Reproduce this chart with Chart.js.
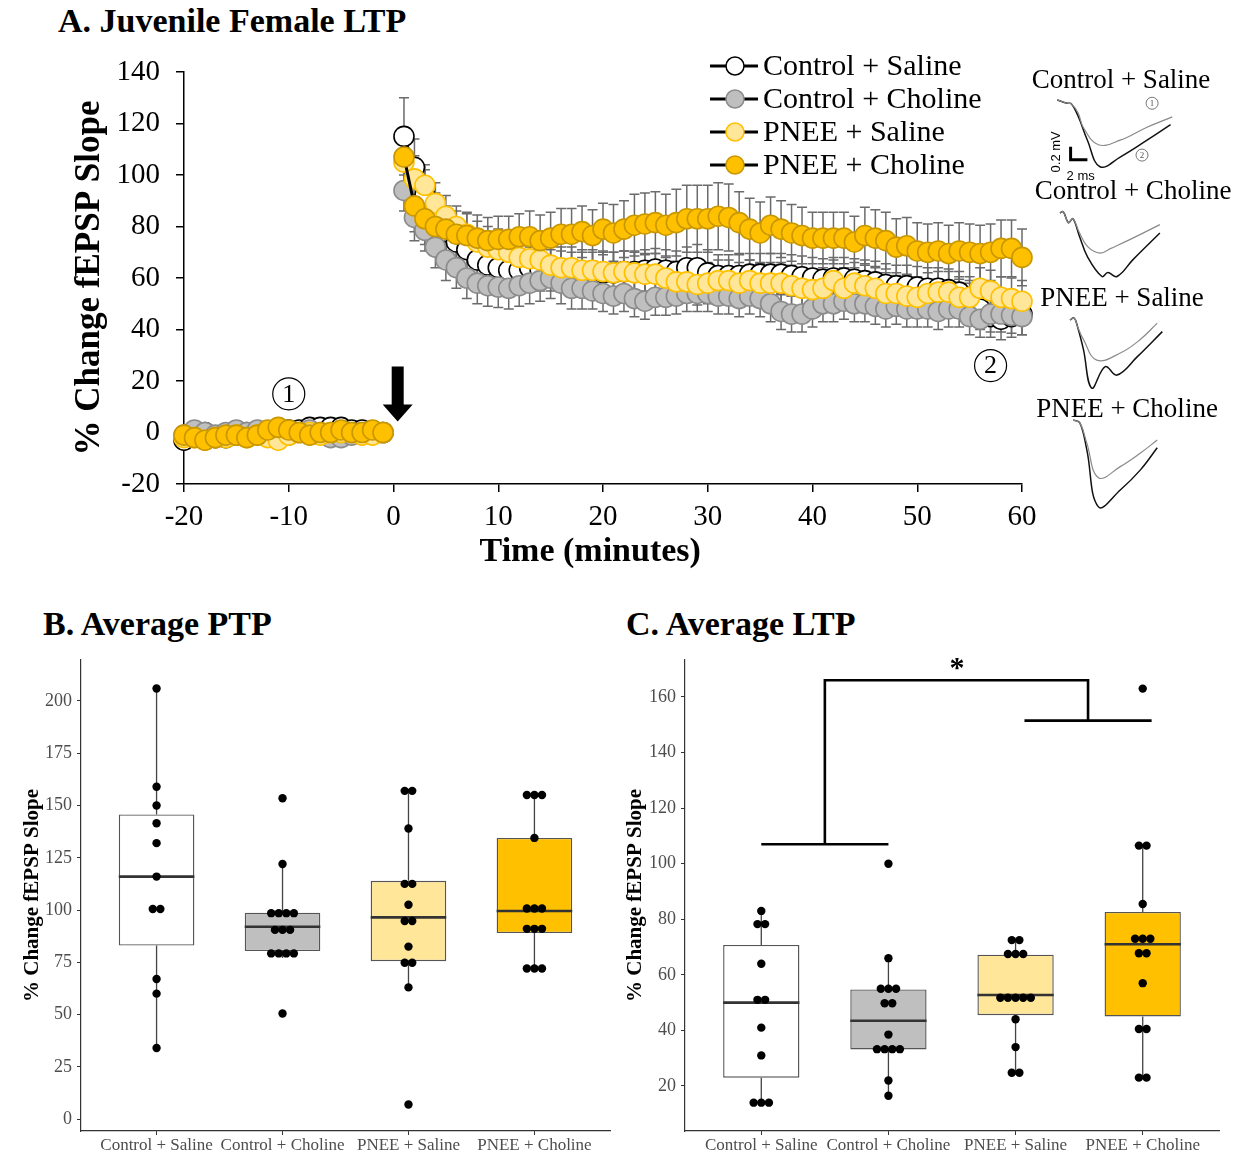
<!DOCTYPE html>
<html>
<head>
<meta charset="utf-8">
<title>Juvenile Female LTP</title>
<script src="https://cdn.jsdelivr.net/npm/chart.js"></script>
<style>
  body { margin: 0; width: 1238px; height: 1154px; background: #fff; position: relative; overflow: hidden;
         font-family: 'Liberation Serif', 'Times New Roman', serif; }
  .box { position: absolute; }
  .panel-title { position: absolute; margin: 0; font-size: 34px; line-height: 1; font-weight: bold; white-space: nowrap; }
</style>
</head>
<body>
<div class="panel-title" style="left:58px;top:4px">A. Juvenile Female LTP</div>
<div class="panel-title" style="left:43px;top:607px">B. Average PTP</div>
<div class="panel-title" style="left:626px;top:607px">C. Average LTP</div>

<div class="box" style="left:60px;top:50px;width:980px;height:530px"><canvas id="ltpChart"></canvas></div>
<div class="box" style="left:1016px;top:65px;width:210px;height:129px"><canvas id="traceCS"></canvas></div>
<div class="box" style="left:1028px;top:176px;width:210px;height:131px"><canvas id="traceCC"></canvas></div>
<div class="box" style="left:1017px;top:283px;width:210px;height:131px"><canvas id="tracePS"></canvas></div>
<div class="box" style="left:1022px;top:394px;width:210px;height:120px"><canvas id="tracePC"></canvas></div>
<div class="box" style="left:15px;top:650px;width:605px;height:504px"><canvas id="ptpChart"></canvas></div>
<div class="box" style="left:620px;top:650px;width:618px;height:504px"><canvas id="avgLtpChart"></canvas></div>

<script>
Chart.defaults.font.family = "'Liberation Serif', 'Times New Roman', serif";
Chart.defaults.color = '#000';
Chart.defaults.animation = false;

const groupNames = ['Control + Saline', 'Control + Choline', 'PNEE + Saline', 'PNEE + Choline'];
const groupFills = ['#ffffff', '#bfbfbf', '#ffe699', '#ffc000'];

// ---------- A: time course (% change fEPSP slope) ----------
const baseMinutes = [-20, -19, -18, -17, -16, -15, -14, -13, -12, -11, -10, -9, -8, -7, -6, -5, -4, -3, -2, -1];
const postMinutes = [1, 2, 3, 4, 5, 6, 7, 8, 9, 10, 11, 12, 13, 14, 15, 16, 17, 18, 19, 20,
  21, 22, 23, 24, 25, 26, 27, 28, 29, 30, 31, 32, 33, 34, 35, 36, 37, 38, 39, 40,
  41, 42, 43, 44, 45, 46, 47, 48, 49, 50, 51, 52, 53, 54, 55, 56, 57, 58, 59, 60];

const ctrlSalineBase = [-3, -1, 0, -2, -2, -1, 0, 0, 0, 1, 1, 1, 2, 2, 2, 2, 1, 1, 0, 0];
const ctrlSalinePost = [115, 103, 92, 84, 78, 74, 71, 67, 65, 64,
  63, 63, 64, 63, 63, 62.5, 62, 62, 62, 62,
  62, 62.5, 62.5, 63, 63.5, 63, 62.5, 64, 64, 62,
  61, 61, 61, 61.5, 61.5, 61.5, 61.5, 61, 60.5, 60,
  59.5, 60, 60, 59.5, 59, 58.5, 57.5, 57, 57, 56.5,
  56, 56, 55.5, 54.5, 50, 48, 45, 44, 45, 46];
const ctrlSalineSemBase = [2, 2, 2, 2, 2, 2, 2, 2, 2, 2, 2, 2, 2, 2, 2, 2, 2, 2, 2, 2];
const ctrlSalineSemPost = [15, 11, 10, 9, 9, 8, 8, 8, 8, 8,
  8, 8, 8, 8, 8, 8, 8, 8, 8, 8,
  8, 8, 8, 8, 8, 8, 8, 8, 9, 9,
  8, 8, 8, 8, 8, 8, 8, 8, 8, 8,
  8, 8, 8, 8, 8, 8, 8, 8, 8, 8,
  8, 8, 8, 8, 8, 8, 8, 8, 8, 8];

const ctrlCholineBase = [-1, 1, 0, -1, 0, 1, 0, 1, 0, 0, -1, 0, 1, 0, -2, -2, -1, 0, 0, 0];
const ctrlCholinePost = [94, 83.5, 78.5, 72, 67, 64, 60, 58, 57, 56.5,
  56, 57, 58, 59, 60, 58, 56, 56, 55, 54,
  53, 54, 52, 51, 52.5, 52.5, 53, 54, 54, 54,
  53, 53, 52, 53, 52, 50, 47, 46, 46, 48,
  50, 50, 51, 50, 50, 49, 48, 49, 48, 48,
  48, 47, 48, 48, 45, 44, 46, 46, 45.5, 45];
const ctrlCholineSemBase = [2, 2, 2, 2, 2, 2, 2, 2, 2, 2, 2, 2, 2, 2, 2, 2, 2, 2, 2, 2];
const ctrlCholineSemPost = [8, 9, 8, 8, 8, 8, 8, 8, 8, 8,
  8, 8, 8, 8, 8, 8, 8, 8, 7, 7,
  7, 7, 7, 7, 7, 7, 7, 7, 7, 7,
  7, 7, 7, 7, 7, 7, 7, 7, 7, 7,
  7, 7, 7, 7, 7, 7, 7, 7, 7, 7,
  7, 7, 7, 7, 7, 7, 7, 7, 7, 7];

const pneeSalineBase = [-2, -2, -3, -2, -2, -1, -2, -1, -2, -3, -1, 0, 0, -1, 0, 0, 0, -1, -1, 0];
const pneeSalinePost = [105, 98.5, 96, 89, 84, 80, 77, 74, 72, 71,
  70, 68, 67.5, 67, 65, 64, 64, 63, 63, 62.5,
  62, 62.5, 62, 61.5, 61.5, 60, 58.5, 58.5, 57.5, 58,
  59, 59, 58, 59, 58, 58, 58, 57, 56, 55.5,
  56, 59, 56, 58, 57, 56, 54, 54, 53, 52.5,
  54, 54.5, 54.5, 52.5, 52.5, 56, 55, 52.5, 52, 51];
const pneeSalineSemBase = [2, 2, 2, 2, 2, 2, 2, 2, 2, 2, 2, 2, 2, 2, 2, 2, 2, 2, 2, 2];
const pneeSalineSemPost = [9, 9, 8, 8, 8, 8, 8, 8, 8, 8,
  8, 8, 8, 8, 8, 8, 8, 8, 8, 8,
  8, 8, 8, 8, 8, 8, 8, 8, 8, 8,
  8, 8, 8, 8, 8, 8, 8, 8, 8, 8,
  8, 8, 8, 8, 8, 8, 8, 8, 8, 8,
  8, 8, 8, 8, 8, 8, 8, 8, 8, 8];

const pneeCholineBase = [-1, -2, -3, -2, -1, -1, -2, -1, 1, 2, 1, 0, -1, 0, 0, 1, 0, 0, 1, 0];
const pneeCholinePost = [107, 88, 83, 80, 79, 77, 76.5, 75.5, 74.5, 75,
  75, 76, 76, 74.5, 75.5, 77, 77, 78, 76.5, 79,
  77.5, 79, 80.5, 81, 81.5, 80.5, 81.5, 83, 83, 83,
  84, 83.5, 81.5, 79, 77.5, 80.5, 79, 77.5, 76.5, 75.5,
  75.5, 75.5, 75.5, 74, 76.5, 75.5, 74.5, 72, 72.5, 70.5,
  70, 70.5, 69.5, 70.5, 70, 69.5, 70, 71.5, 71.5, 68];
const pneeCholineSemBase = [2, 2, 2, 2, 2, 2, 2, 2, 2, 2, 2, 2, 2, 2, 2, 2, 2, 2, 2, 2];
const pneeCholineSemPost = [10, 10, 10, 9, 9, 9, 9, 9, 9, 9,
  9, 9, 10, 10, 10, 10, 10, 10, 10, 10,
  11, 11, 12, 12, 12, 12, 13, 13, 13, 13,
  13, 13, 12, 12, 12, 11, 11, 11, 11, 10,
  10, 10, 10, 10, 11, 11, 11, 11, 11, 11,
  11, 11, 11, 11, 11, 11, 11, 11, 11, 11];

const timeTicks = [-20, -10, 0, 10, 20, 30, 40, 50, 60];
const slopeTicks = [-20, 0, 20, 40, 60, 80, 100, 120, 140];

// sample points marked on the plot and the HFS arrow
const sampleMarks = [{ minute: -10, value: 15, label: '1' }, { minute: 57, value: 26, label: '2' }];
const hfsArrow = { minute: 0.4, from: 25.6, to: 4.3 };

function toSeries(base, post) {
  return baseMinutes.map((t, i) => ({ x: t, y: base[i] }))
    .concat([{ x: 0, y: null }], postMinutes.map((t, i) => ({ x: t, y: post[i] })));
}

const timeCourse = [
  { name: groupNames[0], base: ctrlSalineBase, post: ctrlSalinePost, sb: ctrlSalineSemBase, sp: ctrlSalineSemPost, fill: '#ffffff', edge: '#000000', order: 4 },
  { name: groupNames[1], base: ctrlCholineBase, post: ctrlCholinePost, sb: ctrlCholineSemBase, sp: ctrlCholineSemPost, fill: '#bfbfbf', edge: '#8c8c8c', order: 3 },
  { name: groupNames[2], base: pneeSalineBase, post: pneeSalinePost, sb: pneeSalineSemBase, sp: pneeSalineSemPost, fill: '#ffe699', edge: '#ffc000', order: 2 },
  { name: groupNames[3], base: pneeCholineBase, post: pneeCholinePost, sb: pneeCholineSemBase, sp: pneeCholineSemPost, fill: '#ffc000', edge: '#c99700', order: 1 }
];

const errorBars = {
  id: 'errorBars',
  beforeDatasetsDraw(chart) {
    const ctx = chart.ctx, ys = chart.scales.y;
    ctx.save();
    ctx.strokeStyle = '#6b6b6b';
    ctx.lineWidth = 1.5;
    chart.data.datasets.forEach((ds, di) => {
      const meta = chart.getDatasetMeta(di);
      meta.data.forEach((pt, i) => {
        const v = ds.data[i].y, s = ds.sem[i];
        if (v == null || s == null) return;
        const top = ys.getPixelForValue(v + s), bot = ys.getPixelForValue(v - s);
        ctx.beginPath();
        ctx.moveTo(pt.x, top); ctx.lineTo(pt.x, bot);
        ctx.moveTo(pt.x - 5, top); ctx.lineTo(pt.x + 5, top);
        ctx.moveTo(pt.x - 5, bot); ctx.lineTo(pt.x + 5, bot);
        ctx.stroke();
      });
    });
    ctx.restore();
  }
};

const cornerLegend = {
  id: 'cornerLegend',
  afterDraw(chart) {
    const ctx = chart.ctx;
    ctx.save();
    ctx.font = "30px 'Liberation Serif'";
    ctx.textBaseline = 'middle';
    chart.data.datasets.forEach((ds, i) => {
      const y = 16 + i * 33;
      ctx.strokeStyle = '#000';
      ctx.lineWidth = 3;
      ctx.beginPath(); ctx.moveTo(650, y); ctx.lineTo(698, y); ctx.stroke();
      ctx.beginPath(); ctx.arc(675, y, 9, 0, Math.PI * 2);
      ctx.fillStyle = ds.pointBackgroundColor; ctx.fill();
      ctx.lineWidth = 1.5; ctx.strokeStyle = ds.pointBorderColor; ctx.stroke();
      ctx.fillStyle = '#000';
      ctx.fillText(ds.label, 703, y + 1);
    });
    ctx.restore();
  }
};

const ltpMarks = {
  id: 'ltpMarks',
  afterDatasetsDraw(chart) {
    const { ctx, scales: { x, y } } = chart;
    ctx.save();
    sampleMarks.forEach(m => {
      const px = x.getPixelForValue(m.minute), py = y.getPixelForValue(m.value);
      ctx.beginPath(); ctx.arc(px, py, 16, 0, Math.PI * 2);
      ctx.lineWidth = 1.2; ctx.strokeStyle = '#000'; ctx.stroke();
      ctx.fillStyle = '#000'; ctx.font = "26px 'Liberation Serif'";
      ctx.textAlign = 'center'; ctx.textBaseline = 'middle';
      ctx.fillText(m.label, px, py + 1);
    });
    const ax = x.getPixelForValue(hfsArrow.minute);
    const top = y.getPixelForValue(hfsArrow.from), tip = y.getPixelForValue(hfsArrow.to);
    ctx.beginPath();
    ctx.moveTo(ax - 6, top); ctx.lineTo(ax + 6, top); ctx.lineTo(ax + 6, tip - 17);
    ctx.lineTo(ax + 15, tip - 17); ctx.lineTo(ax, tip); ctx.lineTo(ax - 15, tip - 17);
    ctx.lineTo(ax - 6, tip - 17); ctx.closePath();
    ctx.fillStyle = '#000'; ctx.fill();
    ctx.restore();
  }
};

new Chart(document.getElementById('ltpChart'), {
  type: 'scatter',
  data: {
    datasets: timeCourse.map(g => ({
      label: g.name,
      data: toSeries(g.base, g.post),
      sem: g.sb.concat([null], g.sp),
      showLine: true,
      spanGaps: false,
      borderColor: '#000',
      borderWidth: 3,
      pointRadius: 10,
      pointBackgroundColor: g.fill,
      pointBorderColor: g.edge,
      pointBorderWidth: 1.6,
      order: g.order,
      clip: false
    }))
  },
  options: {
    responsive: true,
    maintainAspectRatio: false,
    layout: { autoPadding: false, padding: { top: 22, right: 18, left: 0, bottom: 0 } },
    plugins: { legend: { display: false }, tooltip: { enabled: false } },
    scales: {
      x: {
        type: 'linear', min: -20, max: 60,
        afterBuildTicks: s => { s.ticks = timeTicks.map(v => ({ value: v })); },
        afterFit: s => { s.height = 96; s.paddingLeft = 0; s.paddingRight = 0; },
        grid: { drawOnChartArea: false, color: '#000', lineWidth: 1.5, tickLength: 8 },
        border: { color: '#000', width: 1.5 },
        ticks: { font: { size: 29 }, color: '#000', padding: 8, autoSkip: false, maxRotation: 0 },
        title: { display: true, text: 'Time (minutes)\u00a0\u00a0\u00a0', font: { size: 34, weight: 'bold' }, color: '#000', padding: { top: 0, bottom: 7 } }
      },
      y: {
        min: -20, max: 140,
        afterBuildTicks: s => { s.ticks = slopeTicks.map(v => ({ value: v })); },
        afterFit: s => { s.width = 124; s.paddingTop = 0; s.paddingBottom = 0; },
        grid: { drawOnChartArea: false, color: '#000', lineWidth: 1.5, tickLength: 8 },
        border: { color: '#000', width: 1.5 },
        ticks: { font: { size: 29 }, color: '#000', padding: 16 },
        title: { display: true, text: '% Change fEPSP Slope', font: { size: 35, weight: 'bold' }, color: '#000', padding: { top: 9, bottom: 0 } }
      }
    }
  },
  plugins: [errorBars, ltpMarks, cornerLegend]
});

// ---------- example fEPSP traces (ms, mV): (1) baseline, (2) 60 min ----------
const traceCSBefore = [[0, 0], [1.2, -0.05], [1.7, -0.06], [2.5, -0.2], [3.1, -0.42], [4.9, -0.69], [7.5, -0.62], [10.7, -0.42], [13.7, -0.26]];
const traceCSAfter = [[0, 0], [1.2, -0.05], [1.7, -0.06], [2.5, -0.25], [3.6, -0.62], [5.1, -1.03], [7.5, -0.88], [10.7, -0.62], [13.5, -0.38]];
const traceCCBefore = [[0, 0], [0.4, 0.02], [1, -0.15], [1.55, -0.09], [2.3, -0.3], [3.3, -0.52], [4.8, -0.62], [6, -0.55], [8.5, -0.4], [11.9, -0.18]];
const traceCCAfter = [[0, 0], [0.4, 0.02], [1, -0.15], [1.55, -0.09], [2.3, -0.35], [3.3, -0.68], [5, -0.98], [5.7, -0.92], [6.8, -0.98], [8.7, -0.72], [11.9, -0.31]];
const tracePSBefore = [[0, 0], [0.5, 0.03], [0.9, -0.1], [1.6, -0.3], [3.2, -0.62], [6, -0.51], [8.3, -0.31], [10.4, -0.05]];
const tracePSAfter = [[0, 0], [0.5, 0.03], [0.9, -0.1], [1.6, -0.45], [2.6, -1.05], [4.2, -0.72], [5.6, -0.85], [8, -0.57], [11, -0.18]];
const tracePCBefore = [[0, 0], [0.8, -0.05], [1.6, -0.35], [3, -0.89], [5.6, -0.72], [8, -0.51], [10, -0.31]];
const tracePCAfter = [[0, 0], [0.8, -0.05], [1.6, -0.45], [3, -1.34], [5.6, -1.08], [8, -0.77], [10, -0.43]];
const scaleBar = [[1.6, -0.72], [1.6, -0.92], [3.6, -0.92]];

const scaleBarLabels = {
  id: 'scaleBarLabels',
  afterDatasetsDraw(chart) {
    const { ctx, scales: { x, y } } = chart;
    ctx.save();
    ctx.fillStyle = '#000';
    ctx.font = "13px 'Liberation Sans'";
    ctx.textAlign = 'center'; ctx.textBaseline = 'middle';
    ctx.fillText('2 ms', x.getPixelForValue(2.8), y.getPixelForValue(-1.18));
    ctx.save();
    ctx.translate(x.getPixelForValue(-0.1), y.getPixelForValue(-0.8));
    ctx.rotate(-Math.PI / 2);
    ctx.fillText('0.2 mV', 0, 0);
    ctx.restore();
    [['1', 11.3, -0.05], ['2', 10.1, -0.85]].forEach(([t, mx, my]) => {
      const px = x.getPixelForValue(mx), py = y.getPixelForValue(my);
      ctx.beginPath(); ctx.arc(px, py, 6, 0, Math.PI * 2);
      ctx.lineWidth = 0.8; ctx.strokeStyle = '#555'; ctx.stroke();
      ctx.fillStyle = '#555'; ctx.font = "9px 'Liberation Serif'";
      ctx.fillText(t, px, py + 0.5);
    });
    ctx.restore();
  }
};

function traceChart(id, title, before, after, xMin, yMax, extra) {
  const line = (pts, color, width) => ({
    data: pts.map(p => ({ x: p[0], y: p[1] })), showLine: true, borderColor: color,
    borderWidth: width, pointRadius: 0, tension: 0.4, clip: false
  });
  const datasets = [line(before, '#8a8a8a', 1.2), line(after, '#111', 1.5)];
  if (extra) datasets.push({ data: extra.map(p => ({ x: p[0], y: p[1] })), showLine: true, borderColor: '#000', borderWidth: 3, pointRadius: 0, tension: 0 });
  new Chart(document.getElementById(id), {
    type: 'scatter',
    data: { datasets },
    options: {
      responsive: true, maintainAspectRatio: false,
      layout: { autoPadding: false, padding: 0 },
      plugins: {
        legend: { display: false }, tooltip: { enabled: false },
        title: { display: true, text: title, font: { size: 27, weight: 'normal' }, color: '#000', padding: 0 }
      },
      scales: {
        x: { display: false, min: xMin, max: xMin + 25 },
        y: { display: false, min: -1.45, max: yMax }
      }
    },
    plugins: extra ? [scaleBarLabels] : []
  });
}
traceChart('traceCS', groupNames[0], traceCSBefore, traceCSAfter, -4.9, 0.04, scaleBar);
traceChart('traceCC', groupNames[1], traceCCBefore, traceCCAfter, -3.8, 0.07);
traceChart('tracePS', groupNames[2], tracePSBefore, tracePSAfter, -6.3, 0.07);
traceChart('tracePC', groupNames[3], tracePCBefore, tracePCAfter, -6.1, -0.1);

// ---------- B and C: per-slice values ----------
const ptpCtrlSaline = [34, 60, 67, 99, 102, 116, 132, 141.5, 150, 159, 206];
const ptpCtrlCholine = [50.5, 77, 78.5, 80, 81.5, 88, 91, 93, 97, 98, 99, 100, 122, 153.5];
const ptpPneeSaline = [7, 63, 74, 75.5, 82.5, 93, 96.5, 102.5, 111, 114, 139, 156, 158];
const ptpPneeCholine = [70.5, 72, 73.5, 89, 92, 93, 99.5, 100.5, 102, 134.5, 153.5, 155, 156.5];

const ltpCtrlSaline = [13, 14, 15, 31, 41, 50, 52, 64, 77.5, 79, 83];
const ltpCtrlCholine = [16.5, 22, 32, 33, 33.5, 34.5, 38.5, 48.5, 51, 54, 55, 56, 66, 100];
const ltpPneeSaline = [24, 25.5, 34, 44, 50, 52, 52.5, 53, 53.5, 66.5, 67.5, 68.5, 72, 73];
const ltpPneeCholine = [22.5, 23.5, 40, 41, 57, 65.5, 70, 72, 73, 74, 85.5, 106, 107, 163];

const ptpTicks = [0, 25, 50, 75, 100, 125, 150, 175, 200];
const ltpTicks = [20, 40, 60, 80, 100, 120, 140, 160];

// significance bracket in C: controls vs PNEE groups
const bracketLeft = { from: 1, to: 2, level: 107 };
const bracketRight = { from: 3.07, to: 4.07, level: 151.5 };
const bracketTop = 166;
const starMark = { x: 2.54, y: 171.5 };

function quantile(s, p) {
  const pos = (s.length - 1) * p, lo = Math.floor(pos), hi = Math.ceil(pos);
  return s[lo] + (s[hi] - s[lo]) * (pos - lo);
}
function boxStats(vals) {
  const s = [...vals].sort((a, b) => a - b);
  const q1 = quantile(s, 0.25), med = quantile(s, 0.5), q3 = quantile(s, 0.75), iqr = q3 - q1;
  const lo = Math.min(...s.filter(v => v >= q1 - 1.5 * iqr));
  const hi = Math.max(...s.filter(v => v <= q3 + 1.5 * iqr));
  return { q1, med, q3, lo, hi };
}
// dot-density binning along y, like a centred dot plot
function dotBins(vals, w) {
  const s = [...vals].sort((a, b) => a - b), bins = [];
  let cur = null;
  for (const v of s) {
    if (!cur || v >= cur.start + w) { cur = { start: v, items: [] }; bins.push(cur); }
    cur.items.push(v);
  }
  return bins.map(b => ({ y: (b.items[0] + b.items[b.items.length - 1]) / 2, n: b.items.length }));
}

function boxChart(id, groups, opt) {
  const stats = groups.map(boxStats);
  const whiskers = [], medians = [], dots = [];
  stats.forEach((s, i) => {
    const c = i + 1;
    whiskers.push({ x: c, y: s.lo }, { x: c, y: s.q1 }, { x: c, y: null }, { x: c, y: s.q3 }, { x: c, y: s.hi }, { x: c, y: null });
    medians.push({ x: c - 0.3, y: s.med }, { x: c + 0.3, y: s.med }, { x: c, y: null });
  });
  groups.forEach((vals, i) => {
    dotBins(vals, opt.binWidth).forEach(b => {
      for (let j = 0; j < b.n; j++) dots.push({ x: i + 1 + (j - (b.n - 1) / 2) * 0.06, y: b.y });
    });
  });
  const datasets = [
    { type: 'line', data: dots, showLine: false, pointRadius: 4.2, pointBackgroundColor: '#000', pointBorderColor: '#000', pointBorderWidth: 0, order: 1 },
    { type: 'line', data: medians, borderColor: '#333', borderWidth: 2.6, pointRadius: 0, spanGaps: false, order: 2 },
    { type: 'bar', data: stats.map((s, i) => ({ x: i + 1, y: [s.q1, s.q3] })), backgroundColor: groupFills,
      borderColor: '#555', borderWidth: 1.4, borderSkipped: false, barPercentage: 0.6, categoryPercentage: 1, order: 3 },
    { type: 'line', data: whiskers, borderColor: '#444', borderWidth: 1.3, pointRadius: 0, spanGaps: false, order: 4 }
  ];
  if (opt.bracket) datasets.push({ type: 'line', data: opt.bracket, borderColor: '#000', borderWidth: 2.6, pointRadius: 0, spanGaps: false, order: 0 });
  const starPlugin = {
    id: 'star',
    afterDatasetsDraw(chart) {
      if (!opt.star) return;
      const { ctx, scales: { x, y } } = chart;
      ctx.save();
      ctx.fillStyle = '#000'; ctx.font = "bold 30px 'Liberation Serif'";
      ctx.textAlign = 'center'; ctx.textBaseline = 'middle';
      ctx.fillText('*', x.getPixelForValue(opt.star.x), y.getPixelForValue(opt.star.y) + 4);
      ctx.restore();
    }
  };
  new Chart(document.getElementById(id), {
    type: 'bar',
    data: { datasets },
    options: {
      responsive: true, maintainAspectRatio: false,
      layout: { autoPadding: false, padding: { top: 10, right: opt.padRight, left: 0, bottom: 0 } },
      plugins: { legend: { display: false }, tooltip: { enabled: false } },
      scales: {
        x: {
          type: 'linear', min: 0.4, max: 4.6, offset: false,
          afterBuildTicks: s => { s.ticks = [1, 2, 3, 4].map(v => ({ value: v })); },
          afterFit: s => { s.height = 23; s.paddingLeft = 0; s.paddingRight = 0; },
          grid: { drawOnChartArea: false, offset: false, color: '#333', lineWidth: 1, tickLength: 4 },
          border: { color: '#333', width: 1.2 },
          ticks: { font: { size: 17 }, color: '#4d4d4d', padding: 0, autoSkip: false, maxRotation: 0, callback: v => groupNames[v - 1] }
        },
        y: {
          min: opt.yMin, max: opt.yMax,
          afterBuildTicks: s => { s.ticks = opt.ticks.map(v => ({ value: v })); },
          afterFit: s => { s.width = opt.axisWidth; s.paddingTop = 0; s.paddingBottom = 0; },
          grid: { drawOnChartArea: false, color: '#333', lineWidth: 1, tickLength: 4 },
          border: { color: '#333', width: 1.2 },
          ticks: { font: { size: 18 }, color: '#4d4d4d', padding: 5 },
          title: { display: true, text: '% Change fEPSP Slope', font: { size: 21, weight: 'bold' }, color: '#000', padding: { top: opt.titlePad, bottom: 0 } }
        }
      }
    },
    plugins: [starPlugin]
  });
}

boxChart('ptpChart', [ptpCtrlSaline, ptpCtrlCholine, ptpPneeSaline, ptpPneeCholine], {
  binWidth: 6.6, yMin: -5.7, yMax: 219.6, ticks: ptpTicks, axisWidth: 66, padRight: 10, titlePad: 5
});

const bracketPts = [
  { x: bracketLeft.from, y: bracketLeft.level }, { x: bracketLeft.to, y: bracketLeft.level }, { x: 1.5, y: null },
  { x: (bracketLeft.from + bracketLeft.to) / 2, y: bracketLeft.level }, { x: (bracketLeft.from + bracketLeft.to) / 2, y: bracketTop },
  { x: (bracketRight.from + bracketRight.to) / 2, y: bracketTop }, { x: (bracketRight.from + bracketRight.to) / 2, y: bracketRight.level },
  { x: 3.5, y: null },
  { x: bracketRight.from, y: bracketRight.level }, { x: bracketRight.to, y: bracketRight.level }
];
boxChart('avgLtpChart', [ltpCtrlSaline, ltpCtrlCholine, ltpPneeSaline, ltpPneeCholine], {
  binWidth: 5, yMin: 3.8, yMax: 173.3, ticks: ltpTicks, axisWidth: 65, padRight: 19, titlePad: 3,
  bracket: bracketPts, star: starMark
});
</script>
</body>
</html>
